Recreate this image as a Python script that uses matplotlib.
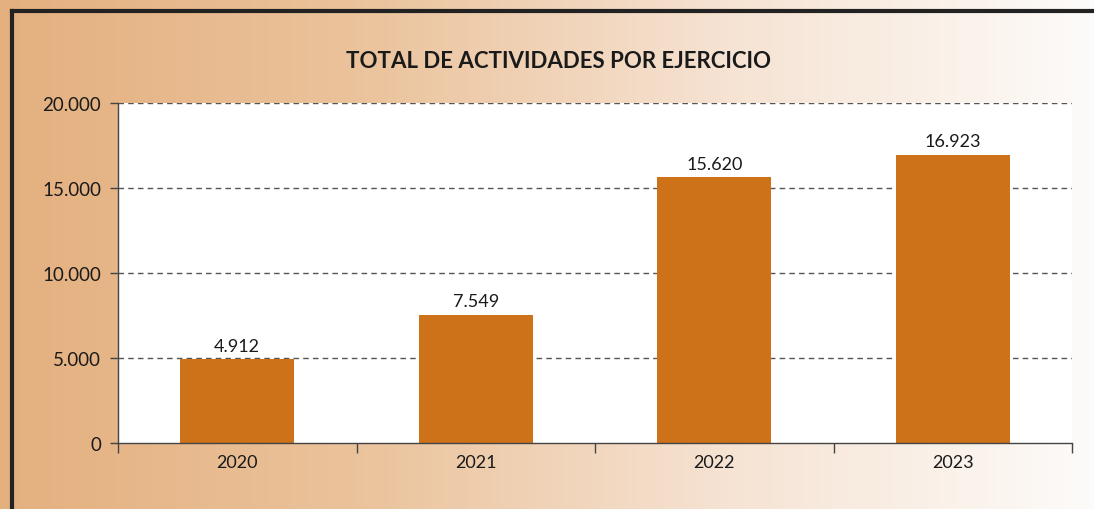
import numpy as np
import matplotlib
matplotlib.use("Agg")
import matplotlib.pyplot as plt
from matplotlib.colors import LinearSegmentedColormap
from matplotlib.lines import Line2D

years = ["2020", "2021", "2022", "2023"]
actividades = [4912, 7549, 15620, 16923]
y_ticks = [0, 5000, 10000, 15000, 20000]
titulo = "TOTAL DE ACTIVIDADES POR EJERCICIO"

plt.rcParams['font.family'] = ['Lato', 'DejaVu Sans']

def fmt(v):
    return f"{v:,}".replace(",", ".")

W, H = 1094, 510
fig = plt.figure(figsize=(W / 100, H / 100), dpi=100)

# fondo degradado
bg = fig.add_axes([0, 0, 1, 1], zorder=0)
cmap = LinearSegmentedColormap.from_list("fondo", ["#e4b07f", "#ebc39c", "#f6e3d3", "#fdfbf9"])
bg.imshow(np.linspace(0, 1, 256)[None, :], aspect="auto", cmap=cmap, extent=[0, 1, 0, 1])
bg.set_xlim(0, 1)
bg.set_ylim(0, 1)
bg.axis("off")

# marco
lw = 3
fig.add_artist(Line2D([12 / W, 12 / W], [0, 1 - 12 / H], color="#222222", lw=lw))
fig.add_artist(Line2D([12 / W, 1], [1 - 12 / H, 1 - 12 / H], color="#222222", lw=lw))

ax = fig.add_axes([118 / W, 66 / H, (1072 - 118) / W, (444 - 104) / H], zorder=1)
ax.set_facecolor("white")
x = np.arange(len(years))
bars = ax.bar(x, actividades, width=0.48, color="#cd7218", zorder=3)
for b, v in zip(bars, actividades):
    ax.text(b.get_x() + b.get_width() / 2, v + 350, fmt(v), ha="center", va="bottom",
            fontsize=13, color="#1a1a1a", zorder=4)

ax.set_xlim(-0.5, len(years) - 0.5)
ax.set_ylim(0, 20000)
ax.set_yticks(y_ticks)
ax.set_yticklabels([fmt(t) for t in y_ticks], fontsize=13.5, color="#1a1a1a")
ax.set_xticks(x)
ax.set_xticklabels(years, fontsize=13, color="#1a1a1a")
ax.tick_params(axis="x", length=0, pad=8)
ax.set_xticks(np.arange(-0.5, len(years)), minor=True)
ax.tick_params(axis="x", which="minor", length=7, color="#444444", width=1)
ax.tick_params(axis="y", length=6, color="#444444", width=1, pad=6)

for t in y_ticks[1:]:
    ax.axhline(t, color="#555555", lw=1, ls=(0, (4, 3)), zorder=2)

for s in ["top", "right"]:
    ax.spines[s].set_visible(False)
for s in ["left", "bottom"]:
    ax.spines[s].set_color("#444444")
    ax.spines[s].set_linewidth(1)
    ax.spines[s].set_zorder(5)

fig.text(559 / W, 1 - 62 / H, titulo, ha="center", va="center", fontsize=16,
         fontweight="bold", color="#1a1a1a")

fig.savefig("out.png", dpi=100)
